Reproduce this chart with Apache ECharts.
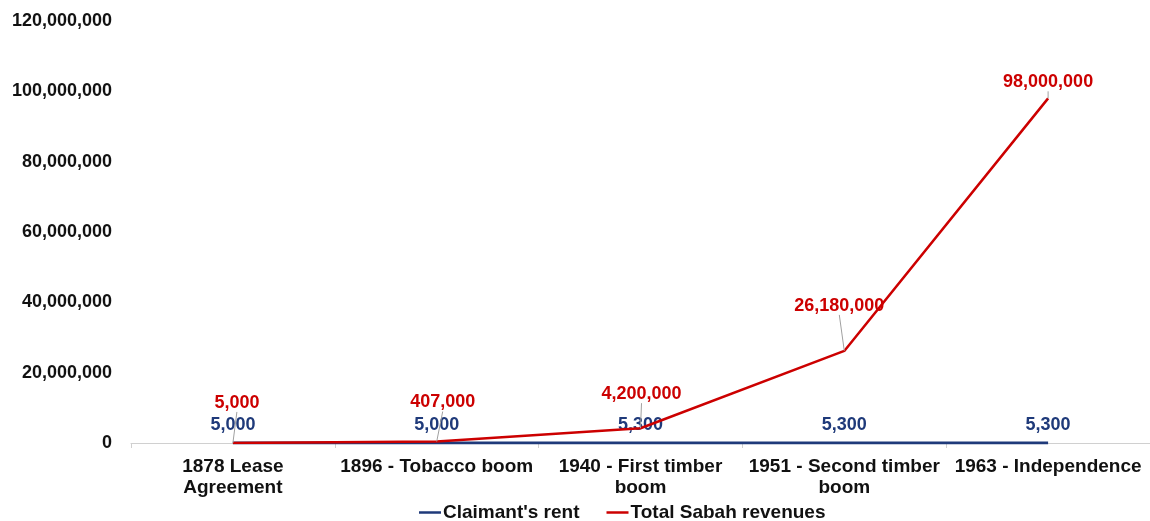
<!DOCTYPE html>
<html>
<head>
<meta charset="utf-8">
<script src="https://cdn.jsdelivr.net/npm/echarts@6/dist/echarts.min.js"></script>
<style>
  html, body { margin: 0; padding: 0; background: #fff; }
  #chart { width: 1150px; height: 521px; }
</style>
</head>
<body>
<div id="chart"></div>
<script>
// Rent paid to the claimants vs. total Sabah revenues at key dates
const categories = [
  '1878 Lease\nAgreement',
  '1896 - Tobacco boom',
  '1940 - First timber\nboom',
  '1951 - Second timber\nboom',
  '1963 - Independence'
];
const claimantRent = [5000, 5000, 5300, 5300, 5300];
const totalRevenue = [5000, 407000, 4200000, 26180000, 98000000];
const yTicks = { min: 0, max: 120000000, interval: 20000000 };

// Label nudges for the revenue series (pixels), so they clear the rent labels
const revenueLabelShift = [[4, -26], [6, -25], [1, -20], [-5, -31], [0, -2]];

const FONT = "'Liberation Sans', Arial, sans-serif";
const RED = '#cc0000';
const NAVY = '#1f3a7a';

const fmt = v => v.toLocaleString('en-US');

const chart = echarts.init(document.getElementById('chart'), null, { renderer: 'canvas' });
chart.setOption({
  animation: false,
  grid: { left: 131, right: 0, top: 21, bottom: 78, containLabel: false },
  legend: {
    top: 498,
    left: 414,
    icon: 'rect',
    itemWidth: 22,
    itemHeight: 2.5,
    itemGap: 27,
    itemStyle: { opacity: 1 },
    textStyle: { fontFamily: FONT, fontWeight: 'bold', fontSize: 19, color: '#111', padding: [0, 0, 0, -3] },
    data: ["Claimant's rent", 'Total Sabah revenues']
  },
  xAxis: {
    type: 'category',
    data: categories,
    boundaryGap: true,
    axisLine: { lineStyle: { color: '#d0d0d0', width: 1 } },
    axisTick: { show: true, length: 5, lineStyle: { color: '#d0d0d0' } },
    axisLabel: {
      fontFamily: FONT, fontWeight: 'bold', fontSize: 19, color: '#111',
      margin: 13, lineHeight: 21, interval: 0
    }
  },
  yAxis: {
    type: 'value',
    min: yTicks.min, max: yTicks.max, interval: yTicks.interval,
    splitLine: { show: false },
    axisLine: { show: false },
    axisTick: { show: false },
    axisLabel: {
      fontFamily: FONT, fontWeight: 'bold', fontSize: 18, color: '#111',
      margin: 19, formatter: v => fmt(v)
    }
  },
  series: [
    {
      name: "Claimant's rent",
      type: 'line',
      data: claimantRent,
      z: 2,
      symbol: 'circle',
      symbolSize: 0.1,
      itemStyle: { color: NAVY },
      lineStyle: { color: NAVY, width: 3 },
      label: {
        show: true, position: 'top', distance: 9,
        fontFamily: FONT, fontWeight: 'bold', fontSize: 18, color: NAVY,
        formatter: p => fmt(p.value)
      }
    },
    {
      name: 'Total Sabah revenues',
      type: 'line',
      data: totalRevenue,
      z: 3,
      symbol: 'circle',
      symbolSize: 0.1,
      itemStyle: { color: RED },
      lineStyle: { color: RED, width: 2.5 },
      label: {
        show: true, position: 'top', distance: 5,
        fontFamily: FONT, fontWeight: 'bold', fontSize: 18, color: RED,
        formatter: p => fmt(p.value)
      },
      labelLine: { show: true, lineStyle: { color: '#a0a0a0', width: 1 } },
      labelLayout: p => ({ dx: revenueLabelShift[p.dataIndex][0], dy: revenueLabelShift[p.dataIndex][1] })
    }
  ]
});
</script>
</body>
</html>
